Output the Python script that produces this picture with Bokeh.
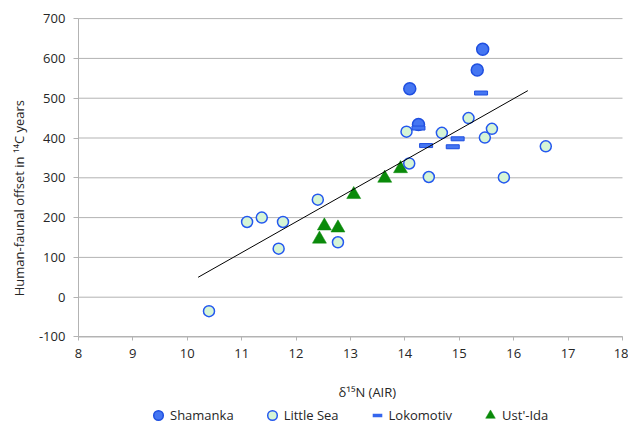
import math
from bokeh.plotting import figure
from bokeh.models import (FixedTicker, Legend, LegendItem, Range1d, PrintfTickFormatter, Label)
from bokeh.embed import file_html
from bokeh.resources import INLINE

# ---- data ----
shamanka_x = [15.43, 15.33, 14.09, 14.25]
shamanka_y = [623, 571, 524, 434]

little_sea_x = [14.03, 14.68, 15.17, 15.60, 15.47, 16.59, 14.08, 14.44,
                15.82, 11.10, 11.37, 11.76, 12.40, 11.68, 12.77, 10.40]
little_sea_y = [416, 413, 450, 423, 401, 379, 336, 302,
                301, 189, 200, 189, 245, 122, 138, -35]

lokomotiv_x = [15.40, 14.25, 14.39, 14.97, 14.88]
lokomotiv_y = [513, 425, 381, 398, 378]

ust_ida_x = [13.92, 13.63, 13.06, 12.52, 12.77, 12.43]
ust_ida_y = [323, 299, 258, 179, 174, 146]

trend_x = [10.20, 16.26]
trend_y = [50, 519]

x_ticks = list(range(8, 19))
y_ticks = list(range(-100, 701, 100))

FONT = "Open Sans"
TXT = "#262626"
GRID = "#b3b3b3"
SH_FILL, SH_LINE = "#4576f2", "#1f4fe0"
LS_FILL, LS_LINE = "#d6f5d6", "#2458ef"
UI_COL = "#0a8a0a"

X0, X1 = x_ticks[0], x_ticks[-1]
Y0, Y1 = y_ticks[0], y_ticks[-1]

# The frame fills the whole page; the axes sit at fixed data locations so that
# titles and legend below the plot area are not clipped.
p = figure(width=628, height=426, output_backend="svg", toolbar_location=None,
           x_range=Range1d(6.568, 18.110), y_range=Range1d(-324.9, 745.5),
           min_border=0, min_border_left=0, min_border_right=0,
           min_border_top=0, min_border_bottom=0)
p.outline_line_color = None
p.background_fill_color = "white"
p.border_fill_color = "white"
p.xgrid.grid_line_color = None
p.ygrid.grid_line_color = None

# horizontal gridlines at the y ticks, spanning the x-axis extent
p.segment(x0=[X0] * len(y_ticks), x1=[X1] * len(y_ticks), y0=y_ticks, y1=y_ticks,
          line_color=GRID, line_width=1)

xa, ya = p.xaxis[0], p.yaxis[0]
xa.fixed_location = Y0
ya.fixed_location = X0
xa.bounds = (X0, X1)
ya.bounds = (Y0, Y1)
for ax in (xa, ya):
    ax.axis_line_color = GRID
    ax.major_tick_line_color = GRID
    ax.minor_tick_line_color = None
    ax.major_tick_in = 0
    ax.major_tick_out = 5
    ax.major_label_text_font = FONT
    ax.major_label_text_font_size = "13px"
    ax.major_label_text_color = TXT
    ax.major_label_standoff = 8
    ax.formatter = PrintfTickFormatter(format="%d")
xa.ticker = FixedTicker(ticks=x_ticks)
ya.ticker = FixedTicker(ticks=y_ticks)
xa.major_tick_out = 4

# ---- series ----
r_ust = p.scatter(ust_ida_x, ust_ida_y, marker="triangle", size=14,
                  fill_color=UI_COL, line_color=UI_COL, line_width=0.5)
r_sham = p.scatter(shamanka_x, shamanka_y, marker="circle", size=12,
                   fill_color=SH_FILL, line_color=SH_LINE, line_width=1.5)
r_ls = p.scatter(little_sea_x, little_sea_y, marker="circle", size=11,
                 fill_color=LS_FILL, line_color=LS_LINE, line_width=1.5)
r_lok = p.scatter(lokomotiv_x, lokomotiv_y, marker="dash", size=12,
                  line_color="#3566ee", line_width=3.5)
p.rect(lokomotiv_x, lokomotiv_y, width=13, height=4,
       width_units="screen", height_units="screen",
       fill_color=SH_FILL, line_color=SH_LINE, line_width=1)
p.line(trend_x, trend_y, line_color="black", line_width=1)

# ---- axis titles ----
p.add_layout(Label(x=6.90, y=249, text="Human-faunal offset in \u00b9\u2074C years",
                   angle=math.pi / 2, text_align="center", text_baseline="middle",
                   text_font=FONT, text_font_size="13px", text_color=TXT))
p.add_layout(Label(x=13.31, y=-239, text="\u03b4\u00b9\u2075N (AIR)",
                   text_align="center", text_baseline="middle",
                   text_font=FONT, text_font_size="13px", text_color=TXT))

# ---- legend ----
legend = Legend(items=[
    LegendItem(label="Shamanka", renderers=[r_sham]),
    LegendItem(label="Little Sea", renderers=[r_ls]),
    LegendItem(label="Lokomotiv", renderers=[r_lok]),
    LegendItem(label="Ust'-Ida", renderers=[r_ust]),
], orientation="horizontal", location=(146, -1),
    padding=0, margin=0, spacing=26, glyph_width=24, glyph_height=24,
    label_standoff=-5, label_height=14,
    label_text_font=FONT, label_text_font_size="13px", label_text_color=TXT,
    border_line_color=None, background_fill_alpha=0)
p.add_layout(legend, "center")

open("out.html", "w").write(file_html(p, INLINE))
